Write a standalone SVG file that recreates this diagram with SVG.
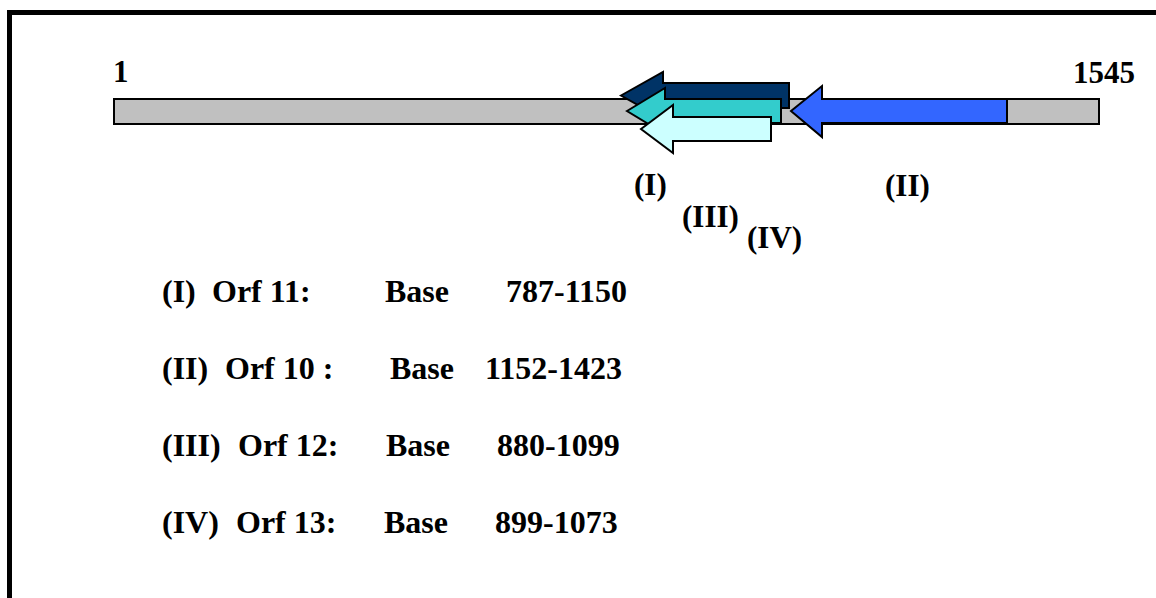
<svg xmlns="http://www.w3.org/2000/svg" width="1156" height="598" viewBox="0 0 1156 598">
  <style>
    .t { font-family: "Liberation Serif", "Times New Roman", serif; font-weight: bold; font-size: 31px; fill: #000; }
    .lg { font-family: "Liberation Serif", "Times New Roman", serif; font-weight: bold; font-size: 32px; fill: #000; }
    .arr { stroke: #000; stroke-width: 2; stroke-linejoin: miter; }
  </style>
  <rect x="0" y="0" width="1156" height="598" fill="#fff"/>
  <g id="frame">
    <path d="M9.5,598 V12.5 H1156" fill="none" stroke="#000" stroke-width="5"/>
  </g>
  <g id="sequence">
    <rect x="114" y="99" width="985" height="25" fill="#C0C0C0" stroke="#000" stroke-width="2"/>
    <text class="t" x="113" y="82">1</text>
    <text class="t" x="1073" y="83">1545</text>
  </g>
  <g id="orf10">
    <polygon class="arr" fill="#3366FF" points="791,111 822,86 822,99 1007,99 1007,123 822,123 822,137"/>
  </g>
  <g id="orf11">
    <polygon class="arr" fill="#003366" points="621,95.5 663,72 663,83 789,83 789,108 663,108 663,119"/>
  </g>
  <g id="orf12">
    <polygon class="arr" fill="#33CCCC" points="627,111 665,88 665,99 781,99 781,123 665,123 665,134"/>
  </g>
  <g id="orf13">
    <polygon class="arr" fill="#CCFFFF" points="641,129 673,105 673,117 771,117 771,141 673,141 673,153"/>
  </g>
  <g id="labels">
    <text class="t" x="634" y="195">(I)</text>
    <text class="t" x="885" y="196">(II)</text>
    <text class="t" x="682" y="227">(III)</text>
    <text class="t" x="747" y="248">(IV)</text>
  </g>
  <g id="legend">
    <text class="lg" x="162" y="302">(I)</text>
    <text class="lg" x="212" y="302">Orf 11:</text>
    <text class="lg" x="385" y="302">Base</text>
    <text class="lg" x="506" y="302">787-1150</text>

    <text class="lg" x="162" y="379">(II)</text>
    <text class="lg" x="225" y="379">Orf 10 :</text>
    <text class="lg" x="390" y="379">Base</text>
    <text class="lg" x="485" y="379">1152-1423</text>

    <text class="lg" x="162" y="456">(III)</text>
    <text class="lg" x="238" y="456">Orf 12:</text>
    <text class="lg" x="386" y="456">Base</text>
    <text class="lg" x="497" y="456">880-1099</text>

    <text class="lg" x="162" y="533">(IV)</text>
    <text class="lg" x="236" y="533">Orf 13:</text>
    <text class="lg" x="384" y="533">Base</text>
    <text class="lg" x="495" y="533">899-1073</text>
  </g>
</svg>
